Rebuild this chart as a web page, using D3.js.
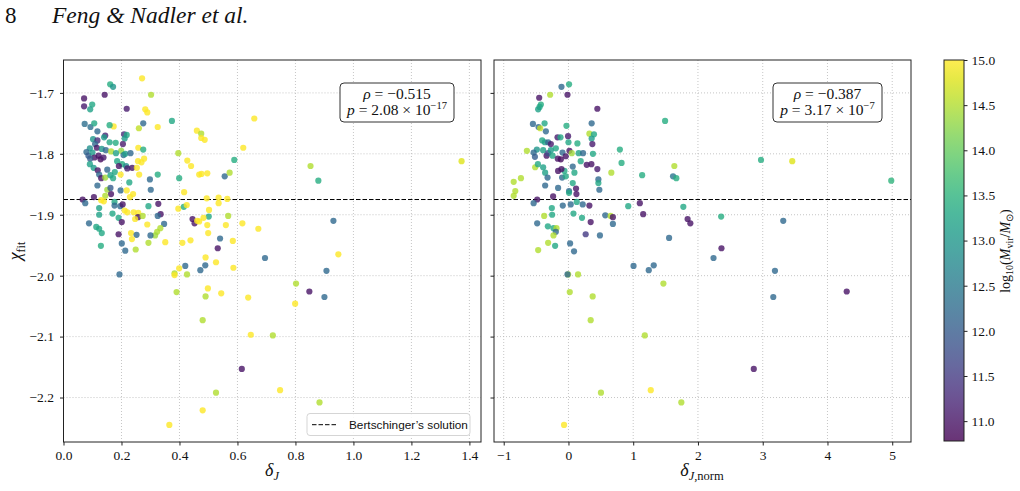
<!DOCTYPE html>
<html>
<head>
<meta charset="utf-8">
<script src="https://cdn.jsdelivr.net/npm/d3@7"></script>
<style>
  body { margin: 0; background: #fff; }
  svg text { font-family: "Liberation Serif", "Times New Roman", serif; fill: #111; }
  .legend-text { font-family: "Liberation Sans", "DejaVu Sans", sans-serif !important; }
</style>
</head>
<body>
<div id="chart"></div>
<script>
// ---- data: [delta, chi_fit, log10 Mvir] ----
const leftPoints = [
  [0.271,-1.676,15],[0.161,-1.686,13.4],[0.171,-1.690,13.0],[0.302,-1.703,14.5],[0.142,-1.703,11.0],
  [0.071,-1.709,11.0],[0.071,-1.722,11.1],[0.099,-1.719,13.3],[0.092,-1.727,13.2],[0.218,-1.726,11.1],
  [0.282,-1.727,15],[0.289,-1.732,15],[0.374,-1.746,13.3],[0.073,-1.751,12.3],[0.093,-1.756,12.3],
  [0.106,-1.750,13.3],[0.275,-1.750,12.2],[0.173,-1.755,15],[0.159,-1.753,13.4],[0.260,-1.758,14.6],
  [0.325,-1.756,15],[0.117,-1.763,12.2],[0.144,-1.770,11.2],[0.140,-1.773,13.1],[0.209,-1.768,11.3],
  [0.218,-1.769,13.3],[0.211,-1.775,13.1],[0.102,-1.776,13.0],[0.117,-1.778,11.3],[0.159,-1.781,13.3],
  [0.180,-1.782,13.4],[0.205,-1.784,11.1],[0.258,-1.790,15],[0.275,-1.793,13.4],[0.109,-1.784,12.2],
  [0.091,-1.791,12.9],[0.115,-1.790,11.0],[0.132,-1.792,13.0],[0.146,-1.794,12.2],[0.164,-1.796,14.5],
  [0.199,-1.795,14.3],[0.079,-1.797,12.2],[0.086,-1.803,12.0],[0.100,-1.798,13.1],[0.121,-1.803,11.0],
  [0.107,-1.806,11.0],[0.128,-1.809,10.9],[0.138,-1.806,11.1],[0.092,-1.808,12.0],[0.181,-1.799,13.2],
  [0.185,-1.812,13.3],[0.207,-1.802,12.3],[0.213,-1.800,13.1],[0.231,-1.799,12.2],[0.257,-1.812,15],
  [0.278,-1.808,15],[0.269,-1.814,15],[0.202,-1.817,13.4],[0.216,-1.820,12.8],[0.237,-1.823,11.0],
  [0.253,-1.823,15],[0.091,-1.817,13.2],[0.104,-1.823,13.1],[0.118,-1.827,11.0],[0.151,-1.826,12.2],
  [0.191,-1.820,11.0],[0.220,-1.824,11.1],[0.177,-1.830,13.3],[0.123,-1.834,12.2],[0.130,-1.840,11.0],
  [0.144,-1.839,14.4],[0.162,-1.835,13.2],[0.171,-1.840,13.3],[0.197,-1.834,15],[0.261,-1.834,15],
  [0.298,-1.842,12.2],[0.325,-1.834,13.4],[0.227,-1.847,13.3],[0.117,-1.852,12.2],[0.151,-1.859,14.4],
  [0.162,-1.856,12.0],[0.164,-1.866,11.0],[0.144,-1.869,14.5],[0.197,-1.860,12.2],[0.218,-1.860,15],
  [0.301,-1.859,12.2],[0.240,-1.866,15],[0.229,-1.871,15],[0.066,-1.875,11.0],[0.075,-1.881,12.2],
  [0.105,-1.871,11.0],[0.130,-1.876,15],[0.139,-1.878,15],[0.176,-1.879,13.3],[0.176,-1.885,12.2],
  [0.196,-1.886,12.2],[0.204,-1.883,11.0],[0.211,-1.893,15],[0.220,-1.896,15],[0.123,-1.889,13.2],
  [0.123,-1.900,13.2],[0.169,-1.898,13.3],[0.190,-1.905,13.3],[0.201,-1.912,11.0],[0.242,-1.896,15],
  [0.258,-1.897,15],[0.257,-1.904,11.0],[0.273,-1.902,14.5],[0.247,-1.907,15],[0.293,-1.886,13.3],
  [0.327,-1.882,11.0],[0.335,-1.899,11.0],[0.325,-1.902,12.2],[0.289,-1.916,15],[0.347,-1.915,12.2],
  [0.334,-1.922,14.5],[0.323,-1.928,14.5],[0.316,-1.934,14.4],[0.088,-1.914,12.2],[0.113,-1.920,13.3],
  [0.123,-1.923,13.3],[0.132,-1.930,13.3],[0.190,-1.932,11.0],[0.233,-1.930,15],[0.252,-1.933,12.2],
  [0.236,-1.940,15],[0.300,-1.934,12.2],[0.351,-1.945,15],[0.293,-1.946,14.5],[0.129,-1.951,13.4],
  [0.201,-1.947,12.2],[0.213,-1.959,12.2],[0.249,-1.957,14.5],
  [0.658,-1.742,15],[0.460,-1.762,15],[0.475,-1.767,14.5],[0.475,-1.774,15],[0.487,-1.777,15],
  [0.620,-1.790,15],[0.396,-1.799,14.5],[0.427,-1.811,15],[0.440,-1.820,15],[0.589,-1.810,13.4],
  [0.852,-1.820,14.5],[0.879,-1.844,13.4],[0.399,-1.840,13.4],[0.468,-1.834,15],[0.476,-1.833,15],
  [0.496,-1.832,15],[0.556,-1.837,12.2],[0.573,-1.831,14.5],[0.416,-1.863,15],[0.494,-1.873,15],
  [0.535,-1.872,15],[0.565,-1.874,15],[0.535,-1.881,15],[0.396,-1.890,15],[0.415,-1.887,13.4],
  [0.425,-1.884,15],[0.502,-1.892,15],[0.501,-1.903,13.3],[0.568,-1.902,14.5],[0.445,-1.907,11.0],
  [0.452,-1.914,11.0],[0.461,-1.910,15],[0.483,-1.905,15],[0.496,-1.917,15],[0.560,-1.917,15],
  [0.617,-1.914,15],[0.672,-1.923,15],[0.499,-1.930,15],[0.931,-1.910,12.2],[1.373,-1.812,14.8],
  [0.948,-1.965,15],[0.490,-1.970,15],[0.532,-1.955,11.0],[0.584,-1.943,15],[0.540,-1.939,12.2],
  [0.695,-1.971,12.2],[0.410,-1.946,15],[0.438,-1.942,15],[0.468,-1.911,15],
  [0.193,-1.998,12.2],[0.383,-1.996,14.5],[0.383,-1.999,15],[0.399,-1.988,15],[0.420,-1.984,12.2],
  [0.426,-1.998,14.5],[0.390,-2.027,14.5],[0.472,-1.991,12.2],[0.489,-1.983,12.2],[0.526,-1.978,15],
  [0.586,-1.987,15],[0.498,-2.021,15],[0.490,-2.034,14.5],[0.544,-2.029,15],[0.480,-2.073,14.5],
  [0.637,-2.036,15],[0.646,-2.097,15],[0.722,-2.098,14.5],[0.615,-2.153,11.0],[0.802,-2.013,14.5],
  [0.799,-2.046,15],[0.848,-2.026,11.0],[0.900,-2.035,12.2],[0.907,-1.992,12.2],[0.747,-2.188,15],
  [0.526,-2.192,14.5],[0.883,-2.208,14.5],[0.480,-2.221,15],[0.365,-2.245,15]
];

const rightPoints = [
  [-0.108,-1.690,12.2],[0.009,-1.686,13.4],[-0.283,-1.703,14.5],[-0.015,-1.703,11.0],[-0.452,-1.708,11.0],
  [-0.426,-1.719,13.4],[-0.446,-1.723,13.3],[-0.468,-1.727,13.2],[0.446,-1.726,11.0],[1.492,-1.746,13.4],
  [-0.549,-1.751,12.2],[-0.462,-1.756,12.2],[-0.369,-1.750,13.3],[-0.349,-1.763,12.2],[-0.031,-1.754,13.4],
  [0.358,-1.750,12.2],[-0.437,-1.758,14.6],[-0.169,-1.773,11.1],[-0.123,-1.773,13.3],[-0.006,-1.771,11.1],
  [0.323,-1.767,14.5],[0.394,-1.768,13.3],[0.358,-1.775,13.1],[-0.406,-1.778,13.3],[-0.365,-1.781,13.2],
  [-0.314,-1.781,12.2],[-0.272,-1.784,11.1],[0.000,-1.781,13.3],[0.138,-1.783,13.4],[0.369,-1.784,11.1],
  [-0.642,-1.795,14.5],[-0.488,-1.793,13.0],[-0.538,-1.798,12.2],[-0.518,-1.805,12.0],[-0.391,-1.794,13.2],
  [-0.338,-1.803,11.0],[-0.314,-1.799,11.8],[-0.272,-1.794,13.1],[-0.246,-1.803,13.3],[-0.195,-1.791,13.3],
  [-0.165,-1.808,11.0],[-0.118,-1.809,10.9],[-0.092,-1.798,12.2],[-0.042,-1.804,11.0],[0.015,-1.795,11.0],
  [0.051,-1.799,14.4],[0.158,-1.799,13.2],[0.225,-1.799,12.2],[0.378,-1.800,13.3],[0.794,-1.793,13.4],
  [0.820,-1.815,13.4],[0.189,-1.812,13.3],[0.282,-1.818,11.0],[0.354,-1.817,11.0],[0.446,-1.825,11.1],
  [-0.514,-1.822,14.5],[-0.472,-1.817,13.3],[-0.391,-1.822,13.2],[-0.360,-1.831,13.2],[-0.323,-1.839,12.2],
  [-0.160,-1.828,11.0],[-0.062,-1.828,13.3],[-0.098,-1.839,12.2],[-0.042,-1.837,13.3],[-0.108,-1.825,11.0],
  [0.066,-1.821,12.2],[0.092,-1.831,13.3],[0.662,-1.831,14.5],[1.138,-1.835,13.4],[1.635,-1.820,14.5],
  [1.615,-1.837,12.4],[1.666,-1.840,13.4],[2.974,-1.810,13.4],[3.456,-1.812,14.8],[4.985,-1.844,13.5],
  [-0.846,-1.846,14.5],[-0.821,-1.861,14.5],[-0.846,-1.869,14.5],[-0.734,-1.840,14.5],[-0.360,-1.852,12.2],
  [-0.160,-1.856,12.2],[-0.237,-1.870,11.0],[0.009,-1.861,12.2],[0.009,-1.864,13.3],[0.117,-1.857,11.0],
  [0.123,-1.866,11.0],[0.066,-1.848,13.3],[0.462,-1.842,12.2],[0.462,-1.848,13.3],[0.477,-1.859,12.2],
  [-0.483,-1.875,11.0],[-0.538,-1.881,12.2],[-0.088,-1.885,12.2],[0.035,-1.883,12.2],[0.128,-1.879,13.3],
  [0.220,-1.883,12.2],[0.323,-1.885,11.0],[-0.257,-1.889,13.3],[-0.252,-1.900,13.3],[0.077,-1.898,13.3],
  [-0.375,-1.902,14.5],[0.209,-1.905,13.3],[0.569,-1.901,12.2],[0.651,-1.902,14.5],[0.686,-1.904,11.0],
  [0.686,-1.915,12.2],[0.923,-1.886,13.3],[1.102,-1.881,11.0],[1.154,-1.899,11.0],[1.774,-1.887,13.3],
  [1.840,-1.907,11.0],[1.882,-1.914,11.0],[2.358,-1.903,13.4],[3.317,-1.910,12.2],[-0.483,-1.914,12.2],
  [-0.318,-1.919,13.3],[-0.231,-1.922,13.3],[-0.185,-1.922,14.5],[-0.195,-1.928,12.2],[-0.231,-1.934,14.5],
  [-0.206,-1.951,13.3],[-0.314,-1.946,14.5],[-0.468,-1.958,14.5],[0.343,-1.912,11.0],[0.266,-1.932,11.5],
  [0.486,-1.934,12.2],[0.025,-1.947,12.2],[0.086,-1.960,12.2],[1.554,-1.938,12.2],[2.363,-1.955,11.0],
  [2.240,-1.971,12.2],[1.005,-1.984,12.2],[1.240,-1.991,12.2],[1.317,-1.983,12.2],[3.189,-1.992,12.2],
  [3.163,-2.035,12.2],[4.297,-2.026,11.0],[-0.005,-1.998,14.5],[-0.015,-1.998,12.2],[0.148,-1.998,14.5],
  [0.020,-2.027,14.5],[0.374,-2.034,14.5],[1.466,-2.013,14.5],[0.343,-2.073,14.5],[1.179,-2.098,14.5],
  [2.862,-2.153,11.0],[0.502,-2.192,14.5],[1.271,-2.188,15],[1.743,-2.208,14.5],[-0.068,-2.245,15]
];

const yTicks = [-1.7, -1.8, -1.9, -2.0, -2.1, -2.2];
const xTicksLeft = [0.0, 0.2, 0.4, 0.6, 0.8, 1.0, 1.2, 1.4];
const xTicksRight = [-1, 0, 1, 2, 3, 4, 5];
const colorTicks = [11.0, 11.5, 12.0, 12.5, 13.0, 13.5, 14.0, 14.5, 15.0];
const bertschinger = -1.875;
const statsLeft = ['\u22120.515', '2.08', '\u221217'];
const statsRight = ['\u22120.387', '3.17', '\u22127'];

const width = 1020, height = 491;
const svg = d3.select('#chart').append('svg')
  .attr('width', width)
  .attr('height', height);

// page header
svg.append('text').attr('x', 5).attr('y', 23).style('font-size', '23px').text('8');
svg.append('text').attr('x', 52).attr('y', 23).style('font-size', '23.5px')
  .style('font-style', 'italic').text('Feng & Nadler et al.');

const plotTop = 60, plotBottom = 442;
const yScale = d3.scaleLinear().domain([-2.273, -1.646]).range([plotBottom, plotTop]);
const mScale = d3.scaleLinear().domain([10.78, 15.0]).range([441, 60]);
const color = m => d3.interpolateViridis(Math.max(0, Math.min(1, (m - 10.78) / (15.0 - 10.78))));

function drawPanel(cfg) {
  const g = svg.append('g');
  const x = d3.scaleLinear().domain(cfg.domain).range([cfg.x0, cfg.x1]);

  // dotted grid
  g.append('g').selectAll('line').data(cfg.xTicks).join('line')
    .attr('x1', d => x(d)).attr('x2', d => x(d))
    .attr('y1', plotTop).attr('y2', plotBottom)
    .attr('stroke', '#b8b8b8').attr('stroke-width', 0.8).attr('stroke-dasharray', '1,2');
  g.append('g').selectAll('line').data(yTicks).join('line')
    .attr('x1', cfg.x0).attr('x2', cfg.x1)
    .attr('y1', d => yScale(d)).attr('y2', d => yScale(d))
    .attr('stroke', '#b8b8b8').attr('stroke-width', 0.8).attr('stroke-dasharray', '1,2');

  // reference line
  g.append('line')
    .attr('x1', cfg.x0).attr('x2', cfg.x1)
    .attr('y1', yScale(bertschinger)).attr('y2', yScale(bertschinger))
    .attr('stroke', '#000').attr('stroke-width', 1).attr('stroke-dasharray', '4.5,2');

  // points
  g.append('g').selectAll('circle').data(cfg.points).join('circle')
    .attr('cx', d => x(d[0]))
    .attr('cy', d => yScale(d[1]))
    .attr('r', 3.1)
    .attr('fill', d => color(d[2]))
    .attr('fill-opacity', 0.8);

  // frame
  g.append('rect')
    .attr('x', cfg.x0).attr('y', plotTop)
    .attr('width', cfg.x1 - cfg.x0).attr('height', plotBottom - plotTop)
    .attr('fill', 'none').attr('stroke', '#222').attr('stroke-width', 1);

  // axes
  const xAxis = d3.axisBottom(x).tickValues(cfg.xTicks).tickSize(3.5).tickPadding(5)
    .tickFormat(cfg.xFormat);
  g.append('g').attr('transform', `translate(0,${plotBottom})`).call(xAxis)
    .call(a => a.select('.domain').remove());
  const yAxis = d3.axisLeft(yScale).tickValues(yTicks).tickSize(3.5).tickPadding(6)
    .tickFormat(cfg.yLabels ? d3.format('.1f') : '');
  g.append('g').attr('transform', `translate(${cfg.x0},0)`).call(yAxis)
    .call(a => a.select('.domain').remove());
  g.selectAll('.tick line').attr('stroke', '#222');
  g.selectAll('.tick text').style('font-family', '"Liberation Serif", serif').style('font-size', '13.5px');

  // correlation box
  const bx = cfg.box;
  g.append('rect')
    .attr('x', bx[0]).attr('y', 83).attr('width', bx[1]).attr('height', 39)
    .attr('rx', 4).attr('fill', '#fff').attr('stroke', '#333').attr('stroke-width', 1);
  const cx = bx[0] + bx[1] / 2;
  const t1 = g.append('text').attr('x', cx).attr('y', 98.5).attr('text-anchor', 'middle').style('font-size', '15.5px');
  t1.append('tspan').style('font-style', 'italic').text('\u03c1');
  t1.append('tspan').text(' = ' + cfg.stats[0]);
  const t2 = g.append('text').attr('x', cx).attr('y', 115).attr('text-anchor', 'middle').style('font-size', '15.5px');
  t2.append('tspan').style('font-style', 'italic').text('p');
  t2.append('tspan').text(' = ' + cfg.stats[1] + ' \u00d7 10');
  t2.append('tspan').attr('dy', -6).style('font-size', '10.5px').text(cfg.stats[2]);

  return { g, x };
}

const leftPanel = drawPanel({
  x0: 63.5, x1: 481, domain: [0, 1.44], points: leftPoints,
  xTicks: xTicksLeft, xFormat: d3.format('.1f'), yLabels: true,
  box: [340, 114], stats: statsLeft
});
const rightPanel = drawPanel({
  x0: 494, x1: 911, domain: [-1.15, 5.29], points: rightPoints,
  xTicks: xTicksRight, xFormat: d3.format('d'), yLabels: false,
  box: [773, 109], stats: statsRight
});

// legend in left panel
const lg = leftPanel.g.append('g');
lg.append('rect').attr('x', 307).attr('y', 413.5).attr('width', 163).attr('height', 22)
  .attr('rx', 3).attr('fill', '#fff').attr('fill-opacity', 0.85).attr('stroke', '#d5d5d5');
lg.append('line').attr('x1', 312).attr('x2', 338).attr('y1', 424.7).attr('y2', 424.7)
  .attr('stroke', '#000').attr('stroke-dasharray', '4.5,2');
lg.append('text').attr('class', 'legend-text').attr('x', 349).attr('y', 428.8)
  .style('font-size', '11.8px').text('Bertschinger\u2019s solution');

// axis labels
const xl = svg.append('text').attr('x', 272).attr('y', 476).attr('text-anchor', 'middle').style('font-size', '18px');
xl.append('tspan').style('font-style', 'italic').text('\u03b4');
xl.append('tspan').attr('dy', 4).style('font-size', '12.5px').style('font-style', 'italic').text('J');

const xr = svg.append('text').attr('x', 702).attr('y', 476).attr('text-anchor', 'middle').style('font-size', '18px');
xr.append('tspan').style('font-style', 'italic').text('\u03b4');
xr.append('tspan').attr('dy', 4).style('font-size', '12.5px').style('font-style', 'italic').text('J');
xr.append('tspan').style('font-size', '12.5px').text(',norm');

const yl = svg.append('text').attr('transform', 'translate(21,251) rotate(-90)')
  .attr('text-anchor', 'middle').style('font-size', '18px');
yl.append('tspan').style('font-style', 'italic').text('\u03c7');
yl.append('tspan').attr('dy', 4).style('font-size', '12px').text('fit');

// colorbar
const cbX = 944, cbW = 20;
const grad = svg.append('defs').append('linearGradient')
  .attr('id', 'viridis').attr('x1', 0).attr('y1', 1).attr('x2', 0).attr('y2', 0);
d3.range(0, 1.0001, 0.05).forEach(t => {
  grad.append('stop').attr('offset', t).attr('stop-color', d3.interpolateViridis(t));
});
svg.append('rect').attr('x', cbX).attr('y', mScale(15.0)).attr('width', cbW)
  .attr('height', mScale(10.78) - mScale(15.0))
  .attr('fill', 'url(#viridis)').attr('fill-opacity', 0.8);
svg.append('rect').attr('x', cbX).attr('y', mScale(15.0)).attr('width', cbW)
  .attr('height', mScale(10.78) - mScale(15.0))
  .attr('fill', 'none').attr('stroke', '#222').attr('stroke-width', 1);
const cAxis = d3.axisRight(mScale).tickValues(colorTicks).tickSize(3.5).tickPadding(4)
  .tickFormat(d3.format('.1f'));
svg.append('g').attr('transform', `translate(${cbX + cbW},0)`).call(cAxis)
  .call(a => a.select('.domain').remove())
  .call(a => a.selectAll('.tick line').attr('stroke', '#222'))
  .call(a => a.selectAll('.tick text').style('font-family', '"Liberation Serif", serif').style('font-size', '13.5px'));

const cl = svg.append('text').attr('transform', 'translate(1010,251) rotate(-90)')
  .attr('text-anchor', 'middle').style('font-size', '14px');
cl.append('tspan').text('log');
cl.append('tspan').attr('dy', 3).style('font-size', '10px').text('10');
cl.append('tspan').attr('dy', -3).text('(');
cl.append('tspan').style('font-style', 'italic').text('M');
cl.append('tspan').attr('dy', 3).style('font-size', '10px').text('vir');
cl.append('tspan').attr('dy', -3).text('/');
cl.append('tspan').style('font-style', 'italic').text('M');
cl.append('tspan').attr('dy', 3).style('font-size', '10px').text('\u2299');
cl.append('tspan').attr('dy', -3).text(')');
</script>
</body>
</html>
